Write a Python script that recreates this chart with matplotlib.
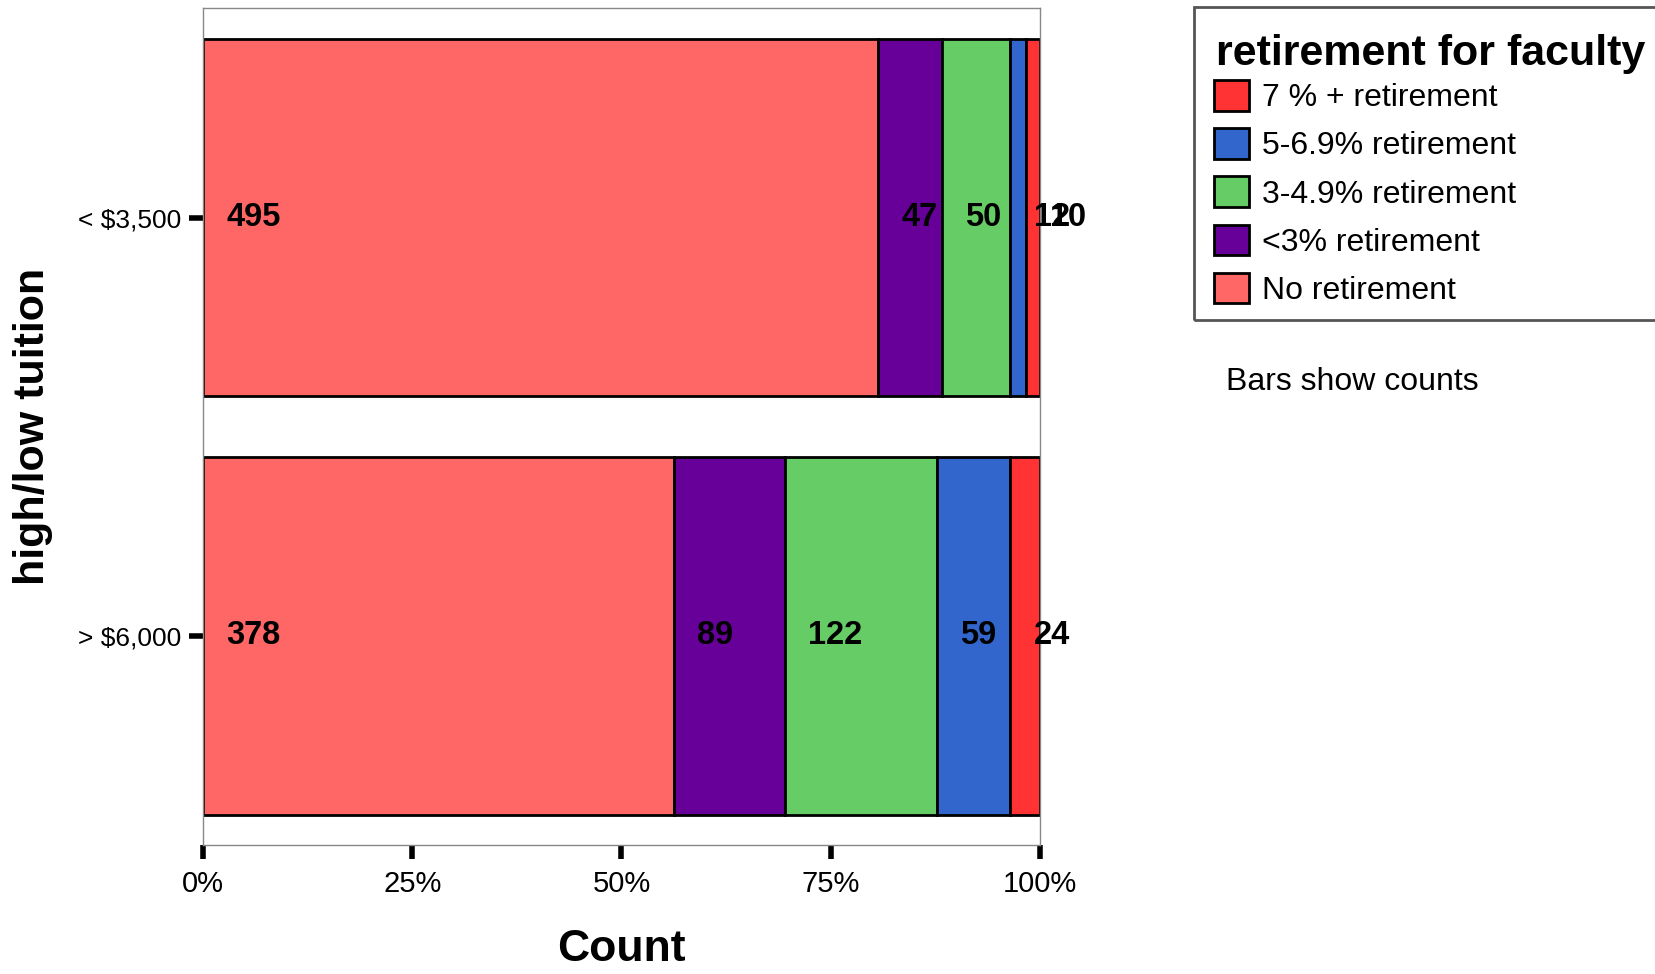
import numpy as np
import matplotlib
matplotlib.use("Agg")
from matplotlib import pyplot as plt
from matplotlib import font_manager as fm
from matplotlib.patches import Patch, Rectangle

# -------------------------
# Data
# -------------------------
tuition_groups = ["< $3,500", "> $6,000"]
retirement_levels = ["No retirement", "<3% retirement", "3-4.9% retirement",
                     "5-6.9% retirement", "7 % + retirement"]
counts_low = [495, 47, 50, 12, 10]
counts_high = [378, 89, 122, 59, 24]
level_colors = ["#FF6666", "#660099", "#66CC66", "#3366CC", "#FF3333"]

x_ticks = [0, 25, 50, 75, 100]
x_tick_labels = ["0%", "25%", "50%", "75%", "100%"]

# fonts: narrow one for axis titles if it is there
names = {f.name for f in fm.fontManager.ttflist}
narrow = "Liberation Sans Narrow" if "Liberation Sans Narrow" in names else "Liberation Sans"
plt.rcParams["font.family"] = ["Liberation Sans", "DejaVu Sans"]

W, H = 1656, 974
fig = plt.figure(figsize=(W / 100, H / 100), dpi=100)
ax = fig.add_axes([0.1226, 0.1324, 0.5054, 0.8589])

counts = np.array([counts_low, counts_high], dtype=float)
totals = counts.sum(axis=1, keepdims=True)
pct = counts / totals * 100
ypos = np.arange(len(tuition_groups))

left = np.zeros(len(tuition_groups))
for j, level in enumerate(retirement_levels):
    ax.barh(ypos, pct[:, j], left=left, height=0.854, color=level_colors[j],
            edgecolor="black", linewidth=2, zorder=2)
    for i in range(len(tuition_groups)):
        ax.annotate(f"{int(counts[i, j])}", xy=(left[i], ypos[i]),
                    xytext=(17, 0), textcoords="offset points",
                    ha="left", va="center", fontsize=23.5, fontweight="bold",
                    zorder=5, annotation_clip=False)
    left = left + pct[:, j]

ax.set_xlim(0, 100)
ax.set_ylim(1.5, -0.5)
ax.set_yticks(ypos)
ax.set_yticklabels(tuition_groups, fontsize=19)
ax.set_xticks(x_ticks)
ax.set_xticklabels(x_tick_labels, fontsize=21, family=narrow)
ax.tick_params(axis="both", length=10, width=4, color="black", direction="out")
ax.tick_params(axis="x", pad=8)
ax.tick_params(axis="y", pad=6)
for s in ax.spines.values():
    s.set_color("#888888")
    s.set_linewidth(1)

ax.set_xlabel("Count", fontsize=32, fontweight="bold", family=narrow, labelpad=22)
ax.set_ylabel("high/low tuition", fontsize=31, fontweight="bold", family=narrow, labelpad=18)

# legend frame runs past the right edge, as in the original
fig.add_artist(Rectangle((1194 / W, 1 - 320 / H), 0.4, (320 - 7) / H,
                         transform=fig.transFigure, fill=False,
                         edgecolor="#555555", linewidth=2))
fig.text(1216 / W, 1 - 54 / H, "retirement for faculty", fontsize=31,
         fontweight="bold", ha="left", va="center")

# legend entries, reversed order like the original
handles = [Patch(facecolor=level_colors[j], edgecolor="black", linewidth=2,
                 label=retirement_levels[j]) for j in reversed(range(len(retirement_levels)))]
leg = fig.legend(handles=handles, loc="upper left",
                 bbox_to_anchor=(1214 / W, 1 - 80 / H), borderaxespad=0,
                 fontsize=23, frameon=False, handlelength=1.1, handleheight=1.1,
                 handletextpad=0.4, labelspacing=0.47, borderpad=0)

fig.text(1226 / W, 1 - 382 / H, "Bars show counts", fontsize=23,
         ha="left", va="center")

fig.savefig("out.png", dpi=100)
